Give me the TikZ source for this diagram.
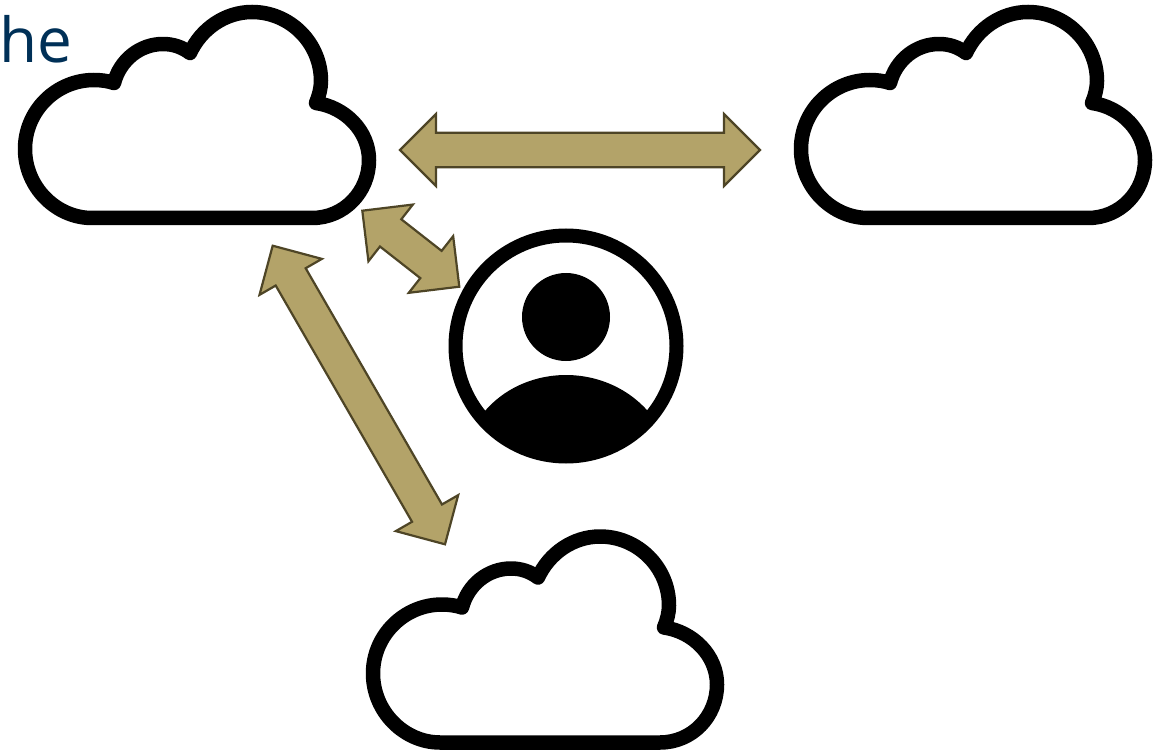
\documentclass[tikz,border=0pt]{standalone}
\usepackage{fontspec}
\setmainfont{Open Sans}
\usetikzlibrary{calc}
\definecolor{techgold}{RGB}{179,163,105}
\definecolor{techgolddark}{RGB}{78,69,38}
\definecolor{technavy}{RGB}{0,48,87}
\newcommand{\blockarrow}[2]{%
  \draw[blockline] (#1)
    -- ($(#1)!36pt!(#2)!36pt!90:(#2)$) -- ($(#1)!36pt!(#2)!17.3pt!90:(#2)$)
    -- ($(#2)!36pt!(#1)!17.3pt!-90:(#1)$) -- ($(#2)!36pt!(#1)!36pt!-90:(#1)$)
    -- (#2)
    -- ($(#2)!36pt!(#1)!36pt!90:(#1)$) -- ($(#2)!36pt!(#1)!17.3pt!90:(#1)$)
    -- ($(#1)!36pt!(#2)!17.3pt!-90:(#2)$) -- ($(#1)!36pt!(#2)!36pt!-90:(#2)$)
    -- cycle;}
\begin{document}
\begin{tikzpicture}[x=1pt, y=-1pt,
    blockline/.style={fill=techgold, draw=techgolddark, line width=2.2pt, line join=miter},
    cloudicon/.pic={
      \draw[black, line width=14.5pt, line join=round] (92,218) -- (312,218)
        .. controls (344,218) and (369,192) .. (369,160)
        .. controls (369,131) and (345,107) .. (316,103)
        .. controls (319,96) and (321,88) .. (321,81)
        .. controls (321,43) and (290,12) .. (252,12)
        .. controls (225,12) and (201,29) .. (190,53)
        .. controls (182,47) and (173,44) .. (163,44)
        .. controls (140,44) and (120,60) .. (114,83)
        .. controls (108,81) and (101,80) .. (94,80)
        .. controls (56,80) and (25,111) .. (25,149)
        .. controls (25,187) and (56,218) .. (92,218) -- cycle;
    }]
  \useasboundingbox (0,0) rectangle (1164,751);
  \node[anchor=base west, inner sep=0pt, text=technavy, font=\fontsize{62}{70}\selectfont] (title) at (-1,63) {he};
  \pic (cloudA) at (0,0) {cloudicon};
  \pic (cloudB) at (776,0) {cloudicon};
  \pic (cloudC) at (348,524.5) {cloudicon};
  % user icon
  \begin{scope}
    \clip (566,346) circle (110.5);
    \fill[black] (478,420) .. controls (500,388) and (535,375) .. (566,375)
      .. controls (597,375) and (632,388) .. (655,420) -- (660,480) -- (470,480) -- cycle;
  \end{scope}
  \node[circle, draw=black, line width=14pt, minimum size=221pt, inner sep=0pt] (user) at (566,346) {};
  \node[circle, fill=black, minimum size=88pt, inner sep=0pt] (head) at (566,317) {};
  % arrow ends
  \coordinate (topL) at (400,150);
  \coordinate (topR) at (760,150);
  \coordinate (nearA) at (362.3,210.7);
  \coordinate (nearU) at (459.3,286.7);
  \coordinate (farA) at (272.7,245.7);
  \coordinate (farC) at (445,544.3);
  \blockarrow{topL}{topR}
  \blockarrow{nearA}{nearU}
  \blockarrow{farA}{farC}
\end{tikzpicture}
\end{document}
